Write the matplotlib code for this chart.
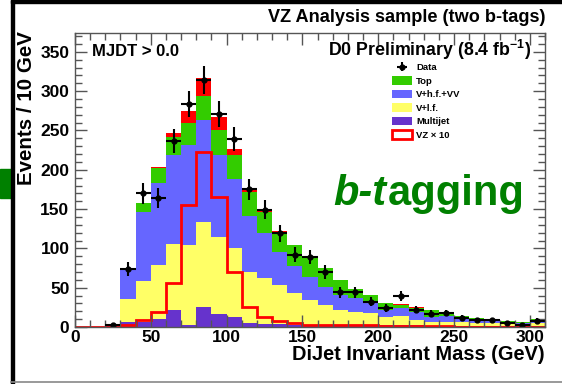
import numpy as np
import matplotlib
matplotlib.use("Agg")
import matplotlib.pyplot as plt
from matplotlib.patches import Patch, Rectangle
from matplotlib.lines import Line2D

plt.rcParams['font.family'] = 'Liberation Sans'
plt.rcParams['font.weight'] = 'bold'
plt.rcParams['mathtext.fontset'] = 'custom'
plt.rcParams['mathtext.rm'] = 'Liberation Sans:bold'
plt.rcParams['mathtext.bf'] = 'Liberation Sans:bold'

# 10 GeV bins, 0 - 310 GeV
edges = np.arange(0, 320, 10)

multijet = [0, 0, 1, 6, 6, 10, 21, 2, 26, 17, 13, 5, 4, 4, 3, 3, 2, 2, 2, 2, 2,
            3, 2, 1, 1, 1, 1, 1, 1, 1, 1]
vlf = [0, 0, 0.5, 29, 52, 69, 85, 102, 108, 98, 88, 65, 58, 49.5, 40.7, 31.4,
       26, 19.6, 17.5, 15.4, 11.2, 11, 6.9, 5.8, 5.8, 5.8, 3.7, 3.5, 2.8, 2, 4.5]
vhf = [0, 0, 0.5, 39.7, 88.8, 103.9, 113, 127.6, 129.5, 104, 87, 71.7, 57.2,
       42.4, 34.3, 29.6, 23.3, 19.1, 17, 12.7, 8.4, 9.8, 10.6, 6.4, 7.6, 4.2,
       4.2, 3.5, 2.6, 2.1, 2.5]
top = [0, 0, 0, 0.3, 10.6, 19.1, 22.4, 27.6, 30.9, 31.7, 31, 30.6, 27.6, 25.4,
       26.4, 25, 23.7, 18.8, 11.9, 10.4, 9.2, 4.8, 5.3, 8.2, 4.9, 3.2, 2.8, 1.6,
       1.4, 1.5, 1.6]
vz = [0, 0, 0, 0.2, 0.9, 1.9, 5.6, 15.5, 22.3, 16.5, 7.0, 2.6, 1.3, 0.8, 0.5,
      0.3, 0.25, 0.22, 0.2, 0.2, 0.18, 0.15, 0.12, 0.1, 0.08, 0.06, 0.05, 0.05,
      0.04, 0.04, 0.03]
data = [0, 0, 2, 74, 170, 164, 237, 284, 314, 271, 239, 175, 149, 119, 92, 89,
        70, 44, 44, 32, 24, 39, 22, 17, 18, 12, 9, 9, 5, 3, 8]

c_multijet = '#6633cc'
c_vlf = '#ffff66'
c_vhf = '#6666ff'
c_top = '#33cc00'
c_vz = '#ff0000'
c_green = '#008000'

fig = plt.figure(figsize=(5.62, 3.84), dpi=100)
W, H = 562.0, 384.0
ax = fig.add_axes([75 / W, 1 - 327 / H, 470 / W, 294 / H])

# stacked backgrounds, bottom to top
layers = [(multijet, c_multijet), (vlf, c_vlf), (vhf, c_vhf), (top, c_top), (vz, c_vz)]
base = np.zeros(len(edges) - 1)
for vals, col in layers:
    upper = base + np.array(vals, dtype=float)
    ax.stairs(upper, edges, baseline=base, fill=True, color=col, lw=0)
    base = upper

# signal scaled by 10
ax.stairs(np.array(vz) * 10, edges, color=c_vz, lw=2)

d = np.array(data, dtype=float)
centers = 0.5 * (edges[:-1] + edges[1:])
m = d > 0
eb = ax.errorbar(centers[m], d[m], yerr=np.sqrt(d[m]), xerr=5, fmt='o', ms=3.5,
                 color='k', elinewidth=1.5, capsize=0)

ax.set_xlim(0, 310)
ax.set_ylim(0, 374)
ax.set_xticks(np.arange(0, 301, 50))
ax.set_xticks(np.arange(0, 311, 10), minor=True)
ax.set_yticks(np.arange(0, 351, 50))
ax.set_yticks(np.arange(0, 371, 10), minor=True)
ax.tick_params(which='both', direction='in', top=True, right=True, color='#555555',
               labelsize=12.5)
ax.tick_params(which='major', length=8.5, width=1)
ax.tick_params(which='minor', length=5, width=1)
ax.tick_params(axis='y', pad=4)
ax.tick_params(axis='x', pad=2)
for s in ax.spines.values():
    s.set_color('#555555')
    s.set_linewidth(1)

fig.text(545 / W, 1 - 18 / H, 'VZ Analysis sample (two b-tags)', ha='right',
         va='center', fontsize=13.1)
fig.text(27 / W, 1 - 31 / H, 'Events / 10 GeV', rotation=90, ha='center',
         va='top', fontsize=14.8)
fig.text(545 / W, 1 - 355 / H, 'DiJet Invariant Mass (GeV)', ha='right',
         va='center', fontsize=14.4)

ax.text(92 / W, 1 - 52 / H, 'MJDT > 0.0', transform=fig.transFigure,
        ha='left', va='center', fontsize=12)
ax.text(531 / W, 1 - 50 / H, r'D0 Preliminary (8.4 fb$^{-1}$)',
        transform=fig.transFigure, ha='right', va='center', fontsize=12.8)

bt = ax.text(333 / W, 1 - 205 / H, 'b-t', transform=fig.transFigure, ha='left',
             va='baseline', fontsize=30, style='italic', color=c_green)
ax.annotate('agging', xy=(1, 0), xycoords=bt, xytext=(1, 0),
            textcoords='offset points', ha='left', va='bottom', fontsize=30,
            color=c_green)

handles = [eb,
           Patch(facecolor=c_top),
           Patch(facecolor=c_vhf),
           Patch(facecolor=c_vlf),
           Patch(facecolor=c_multijet),
           Patch(facecolor='white', edgecolor=c_vz, linewidth=2)]
labels = ['Data', 'Top', 'V+h.f.+VV', 'V+l.f.', 'Multijet', 'VZ \u00d7 10']
ax.legend(handles, labels, loc='upper left', bbox_to_anchor=(392 / W, 1 - 63 / H),
          bbox_transform=fig.transFigure, frameon=False, fontsize=6.8,
          borderpad=0, borderaxespad=0, handlelength=2.1, handleheight=1.0,
          handletextpad=0.45, labelspacing=0.42)

# outer frame pieces and side marker
fig.patches.append(Rectangle((0, 1 - 198 / H), 12 / W, 29 / H, color=c_green,
                             transform=fig.transFigure, figure=fig))
fig.patches.append(Rectangle((11 / W, 0), 2.5 / W, 1, color='black',
                             transform=fig.transFigure, figure=fig))
fig.patches.append(Rectangle((11 / W, 1 - 3 / H), 1, 3 / H, color='black',
                             transform=fig.transFigure, figure=fig))
fig.lines.append(Line2D([11 / W, 1], [1 - 382 / H, 1 - 382 / H], color='#888888',
                        lw=1.2, transform=fig.transFigure, figure=fig))

fig.savefig('out.png', dpi=100)
